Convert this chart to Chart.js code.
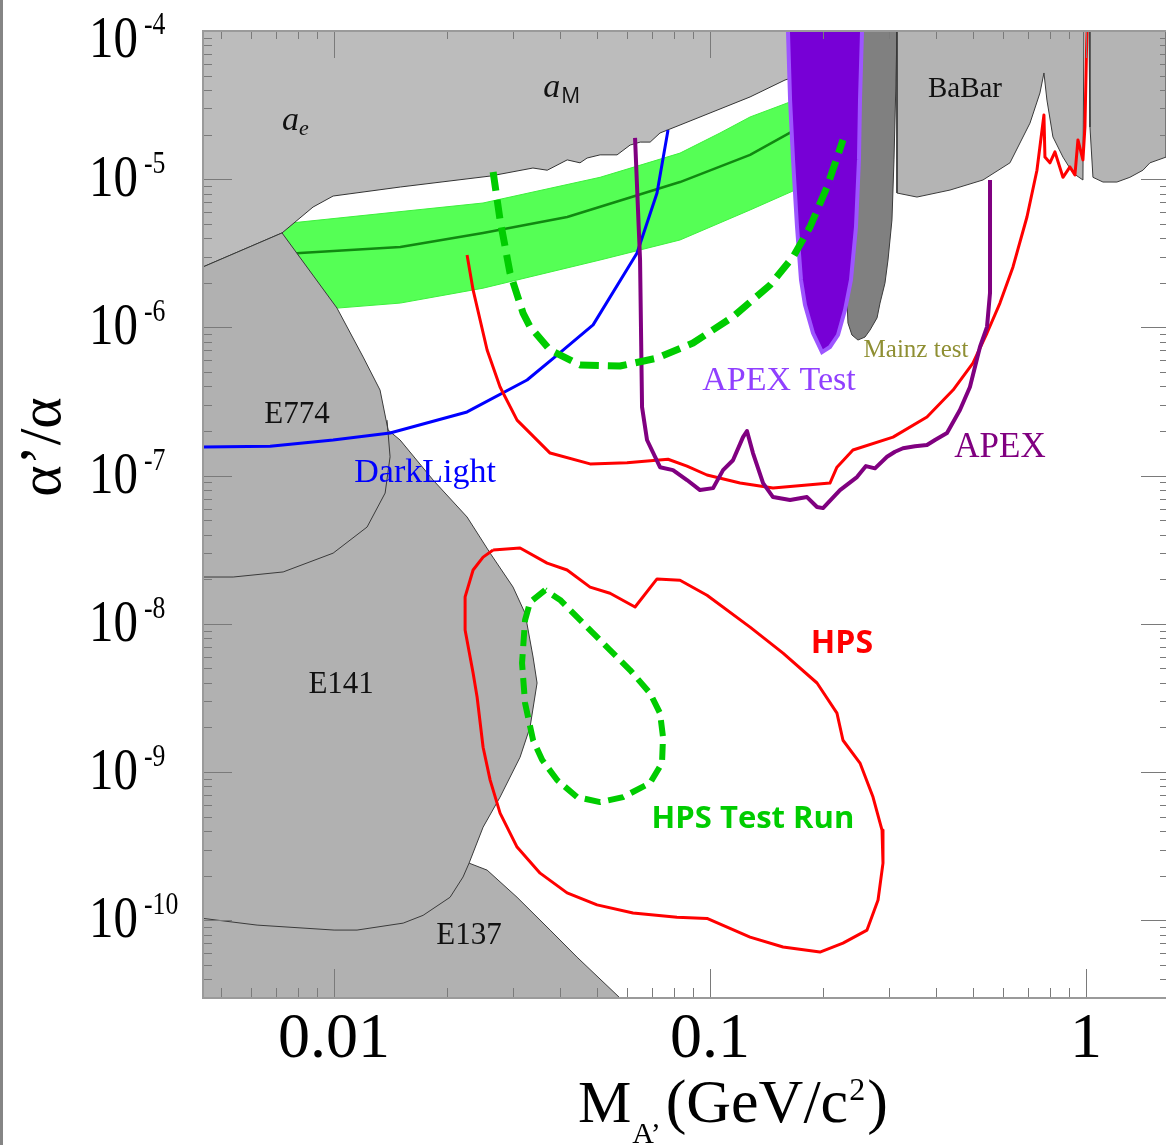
<!DOCTYPE html>
<html>
<head>
<meta charset="utf-8">
<script src="https://cdn.jsdelivr.net/npm/chart.js@4.4.1/dist/chart.umd.min.js"></script>
<style>
  html, body { margin: 0; padding: 0; background: #fff; }
  #wrap { position: relative; width: 1166px; height: 1145px; }
</style>
</head>
<body>
<div id="wrap"><canvas id="limits" width="1166" height="1145"></canvas></div>
<script>
// Axis ranges: A' mass (GeV) and alpha'/alpha
const massRange = [0.00448, 1.633];
const ratioRange = [2.99e-11, 1e-4];
const xTickValues = [0.01, 0.1, 1];
const xTickLabels = ["0.01", "0.1", "1"];
const yTickExponents = [-4, -5, -6, -7, -8, -9, -10];

// Excluded regions, [mass, alpha'/alpha]
const aeAmRegion = [
  [0.00448, 1e-4], [0.00448, 2.56e-6], [0.00727, 4.34e-6], [0.00879, 6.49e-6],
  [0.00994, 7.70e-6], [0.0150, 8.86e-6], [0.0260, 1.05e-5], [0.0338, 1.19e-5],
  [0.0369, 1.15e-5], [0.0417, 1.35e-5], [0.0451, 1.29e-5], [0.0471, 1.39e-5],
  [0.0510, 1.46e-5], [0.0566, 1.46e-5], [0.0613, 1.70e-5], [0.0652, 1.78e-5],
  [0.0693, 1.78e-5], [0.0736, 2.05e-5], [0.0832, 2.32e-5], [0.1278, 3.59e-5],
  [0.1583, 4.67e-5], [0.236, 6.37e-5], [0.236, 1e-4]
];
const beamDumpRegion = [
  [0.00448, 2.56e-6], [0.00727, 4.34e-6], [0.01018, 1.35e-6], [0.01195, 6.31e-7],
  [0.01325, 3.78e-7], [0.01392, 2.03e-7], [0.01498, 1.74e-7], [0.01834, 9.34e-8],
  [0.02258, 5.26e-8], [0.02601, 3.00e-8], [0.02993, 1.77e-8], [0.03221, 1.18e-8],
  [0.03383, 5.97e-9], [0.03467, 3.99e-9], [0.03321, 2.01e-9], [0.03124, 1.26e-9],
  [0.02764, 6.78e-10], [0.02491, 4.25e-10], [0.02286, 2.43e-10], [0.02553, 2.18e-10],
  [0.03067, 1.43e-10], [0.03755, 8.59e-11], [0.04429, 5.64e-11], [0.05762, 2.99e-11],
  [0.00448, 2.99e-11]
];
const e774Edge = [
  [0.01383, 2.37e-7], [0.01409, 1.34e-7], [0.01367, 7.63e-8], [0.01224, 4.50e-8],
  [0.00994, 3.00e-8], [0.00732, 2.24e-8], [0.00539, 2.07e-8], [0.00448, 2.07e-8]
];
const e141Edge = [
  [0.00448, 1.03e-10], [0.00624, 9.28e-11], [0.0100, 8.59e-11], [0.01151, 8.59e-11],
  [0.01527, 9.57e-11], [0.01725, 1.08e-10], [0.02035, 1.43e-10], [0.02203, 1.96e-10],
  [0.02286, 2.43e-10]
];
const mainzRegion = [
  [0.2356, 1e-4], [0.2328, 7.24e-6], [0.2313, 1.53e-6], [0.2328, 1.07e-6],
  [0.2385, 8.89e-7], [0.2475, 8.22e-7], [0.2584, 8.61e-7], [0.2665, 9.60e-7],
  [0.2782, 1.16e-6], [0.2833, 1.46e-6], [0.2920, 1.99e-6], [0.2975, 2.85e-6],
  [0.3048, 5.31e-6], [0.3086, 1.35e-5], [0.3124, 4.67e-5], [0.3143, 1e-4]
];
const apexTestRegion = [
  [0.1612, 1e-4], [0.1633, 3.42e-5], [0.1663, 1.35e-5], [0.1704, 4.76e-6],
  [0.1746, 2.09e-6], [0.1789, 1.42e-6], [0.1879, 9.17e-7], [0.1986, 6.82e-7],
  [0.2085, 7.38e-7], [0.2190, 8.89e-7], [0.2286, 1.31e-6], [0.2371, 2.09e-6],
  [0.2445, 4.76e-6], [0.2490, 1.35e-5], [0.2506, 3.42e-5], [0.2537, 1e-4]
];
const babarLow = [
  [0.3143, 1e-4], [0.3143, 8.07e-6], [0.3552, 7.58e-6], [0.4349, 8.45e-6],
  [0.5322, 9.88e-6], [0.6280, 1.29e-5], [0.7098, 2.39e-5], [0.7545, 3.82e-5],
  [0.7732, 5.21e-5], [0.7875, 3.42e-5], [0.8170, 1.93e-5], [0.8687, 1.41e-5],
  [0.9235, 1.10e-5], [0.9818, 9.88e-6], [0.9878, 1e-4]
];
const babarHigh = [
  [1.019, 1e-4], [1.025, 2.25e-5], [1.044, 1.03e-5], [1.110, 9.57e-6],
  [1.209, 9.57e-6], [1.309, 1.03e-5], [1.418, 1.15e-5], [1.480, 1.29e-5],
  [1.633, 1.41e-5], [1.633, 1e-4]
];

// Favoured (g-2)_mu band and its central line
const muonBand = [
  [0.00448, 4.54e-6], [0.00764, 5.06e-6], [0.0249, 6.91e-6], [0.0510, 1.03e-5],
  [0.0832, 1.50e-5], [0.1063, 2.05e-5], [0.1278, 2.63e-5], [0.1684, 3.42e-5],
  [0.1684, 8.45e-6], [0.1278, 6.20e-6], [0.0832, 3.89e-6], [0.0510, 2.85e-6],
  [0.0249, 1.84e-6], [0.0150, 1.46e-6], [0.01018, 1.35e-6], [0.00448, 1.18e-6]
];
const muonCentre = [
  [0.00448, 2.76e-6], [0.00812, 3.18e-6], [0.0150, 3.49e-6], [0.0249, 4.34e-6],
  [0.0417, 5.56e-6], [0.0832, 9.57e-6], [0.1278, 1.46e-5], [0.1684, 2.15e-5]
];

// Reach curves
const darkLight = [
  [0.00448, 1.56e-7], [0.00676, 1.58e-7], [0.00994, 1.74e-7], [0.01409, 1.94e-7],
  [0.02258, 2.69e-7], [0.03261, 4.42e-7], [0.03920, 6.51e-7], [0.04886, 1.04e-6],
  [0.06396, 3.18e-6], [0.07228, 8.07e-6], [0.07732, 2.15e-5]
];
const hpsPrompt = [
  [0.02258, 3.08e-6], [0.02343, 1.79e-6], [0.02553, 7.04e-7], [0.02764, 3.96e-7],
  [0.03067, 2.37e-7], [0.03755, 1.42e-7], [0.04797, 1.20e-7], [0.06015, 1.22e-7],
  [0.07732, 1.29e-7], [0.08685, 1.16e-7], [0.09818, 1.01e-7], [0.1202, 8.91e-8],
  [0.1471, 8.24e-8], [0.2085, 8.91e-8], [0.2176, 1.14e-7], [0.2400, 1.49e-7],
  [0.3068, 1.82e-7], [0.3777, 2.49e-7], [0.4431, 3.78e-7], [0.5005, 5.75e-7],
  [0.5456, 9.17e-7], [0.5906, 1.46e-6], [0.6397, 2.56e-6], [0.6968, 5.56e-6],
  [0.7408, 1.15e-5], [0.7732, 2.71e-5], [0.7780, 1.41e-5], [0.8021, 1.29e-5],
  [0.8271, 1.53e-5], [0.8687, 1.03e-5], [0.9068, 1.21e-5], [0.9349, 1.07e-5],
  [0.9522, 1.84e-5], [0.9818, 1.35e-5], [0.9939, 2.25e-5], [1.006, 1e-4]
];
const apexReach = [
  [0.06318, 1.90e-5], [0.06515, 2.85e-6], [0.06595, 2.90e-7], [0.06799, 1.74e-7],
  [0.07362, 1.14e-7], [0.07972, 1.09e-7], [0.08685, 9.34e-8], [0.09406, 7.99e-8],
  [0.1019, 8.24e-8], [0.1083, 1.09e-7], [0.1151, 1.27e-7], [0.1224, 1.82e-7],
  [0.1254, 2.00e-7], [0.1301, 1.42e-7], [0.1384, 8.91e-8], [0.1471, 7.17e-8],
  [0.1633, 6.84e-8], [0.1811, 7.17e-8], [0.1926, 6.14e-8], [0.1998, 6.04e-8],
  [0.2217, 7.99e-8], [0.2460, 9.78e-8], [0.2599, 1.16e-7], [0.2747, 1.12e-7],
  [0.2957, 1.34e-7], [0.3105, 1.45e-7], [0.3261, 1.53e-7], [0.3510, 1.58e-7],
  [0.3777, 1.61e-7], [0.3967, 1.74e-7], [0.4270, 1.94e-7], [0.4622, 2.77e-7],
  [0.4914, 3.96e-7], [0.5225, 7.38e-7], [0.5456, 1.01e-6], [0.5557, 1.71e-6],
  [0.5557, 9.88e-6]
];
const testRunPrompt = [
  [0.02649, 1.12e-5], [0.02764, 5.31e-6], [0.02938, 2.33e-6], [0.03182, 1.25e-6],
  [0.03321, 1.01e-6], [0.03755, 7.04e-7], [0.04511, 5.58e-7], [0.05762, 5.49e-7],
  [0.07228, 6.21e-7], [0.09011, 7.85e-7], [0.1151, 1.18e-6], [0.1444, 1.93e-6],
  [0.1663, 2.99e-6], [0.1845, 4.76e-6], [0.2047, 8.86e-6], [0.2258, 1.84e-5]
];
const hpsVertex = [
  [0.02649, 3.15e-8], [0.03124, 3.25e-8], [0.03687, 2.57e-8], [0.04167, 2.31e-8],
  [0.04797, 1.77e-8], [0.05420, 1.61e-8], [0.06318, 1.30e-8], [0.07228, 2.01e-8],
  [0.08321, 1.97e-8], [0.09818, 1.56e-8], [0.1278, 9.51e-9], [0.1564, 6.35e-9],
  [0.1926, 3.99e-9], [0.2176, 2.50e-9], [0.2258, 1.64e-9], [0.2506, 1.15e-9],
  [0.2714, 6.78e-10], [0.2868, 4.06e-10], [0.2885, 2.43e-10], [0.2799, 1.37e-10],
  [0.2616, 8.59e-11], [0.2258, 7.02e-11], [0.1961, 6.10e-11], [0.1564, 6.60e-11],
  [0.1278, 7.70e-11], [0.09818, 1.03e-10], [0.08168, 1.05e-10], [0.06240, 1.12e-10],
  [0.05007, 1.27e-10], [0.04167, 1.53e-10], [0.03532, 2.08e-10], [0.03067, 3.12e-10],
  [0.02764, 5.29e-10], [0.02601, 8.83e-10], [0.02491, 1.47e-9], [0.02401, 3.21e-9],
  [0.02343, 4.66e-9], [0.02231, 9.08e-9], [0.02231, 1.52e-8], [0.02343, 2.31e-8],
  [0.02491, 2.82e-8]
];
const testRunVertex = [
  [0.03642, 1.69e-8], [0.03321, 1.40e-8], [0.03221, 1.06e-8], [0.03162, 5.44e-9],
  [0.03221, 2.92e-9], [0.03383, 1.64e-9], [0.03575, 1.21e-9], [0.03920, 8.83e-10],
  [0.04429, 6.78e-10], [0.05099, 6.27e-10], [0.05869, 6.78e-10], [0.06925, 8.43e-10],
  [0.07453, 1.15e-9], [0.07499, 1.72e-9], [0.07362, 2.50e-9], [0.06925, 3.41e-9],
  [0.06126, 4.88e-9], [0.05420, 6.65e-9], [0.04709, 9.51e-9], [0.03993, 1.45e-8]
];

const SERIF = '"Liberation Serif", "Times New Roman", serif';
const SANS = '"Open Sans", "Liberation Sans", sans-serif';

// text labels placed in data coordinates (centre x, baseline y)
const plotLabels = [
  { text: "BaBar", at: [0.4767, 3.59e-5], font: "29px " + SERIF, color: "#111" },
  { text: "E774", at: [0.00797, 2.26e-7], font: "31px " + SERIF, color: "#111" },
  { text: "DarkLight", at: [0.01746, 9.05e-8], font: "34px " + SERIF, color: "#0000ff" },
  { text: "APEX Test", at: [0.1526, 3.78e-7], font: "34px " + SERIF, color: "#9040ff" },
  { text: "Mainz test", at: [0.3531, 6.31e-7], font: "25px " + SERIF, color: "#8f8f33" },
  { text: "APEX", at: [0.5906, 1.34e-7], font: "35px " + SERIF, color: "#800080" },
  { text: "E141", at: [0.01044, 3.41e-9], font: "31px " + SERIF, color: "#111" },
  { text: "HPS", at: [0.2244, 6.35e-9], font: "bold 32px " + SANS, color: "#ff0000" },
  { text: "HPS Test Run", at: [0.1301, 4.19e-10], font: "bold 31px " + SANS, color: "#00cc00" },
  { text: "E137", at: [0.02286, 6.91e-11], font: "31px " + SERIF, color: "#111" }
];

const pts = a => a.map(p => ({ x: p[0], y: p[1] }));
const closeLoop = a => a.concat([a[0]]);

function region(data, fillColor, edgeColor, edgeWidth) {
  return {
    data: pts(data), fill: "shape", backgroundColor: fillColor,
    borderColor: edgeColor, borderWidth: edgeWidth, pointRadius: 0
  };
}
function curve(data, color, width, dash) {
  return {
    data: pts(data), fill: false, borderColor: color, borderWidth: width,
    borderDash: dash || [], borderJoinStyle: "round", pointRadius: 0
  };
}

// listed bottom to top
const layers = [
  region(muonBand, "#55ff55", "#3df03d", 1),
  curve(muonCentre, "#118811", 2.5),
  region(aeAmRegion, "#bcbcbc", "#333", 1),
  region(beamDumpRegion, "#b1b1b1", "#3a3a3a", 1),
  curve(e774Edge, "#3a3a3a", 1),
  curve(e141Edge, "#3a3a3a", 1),
  region(mainzRegion, "#808080", "#3a3a3a", 1),
  region(apexTestRegion, "#7700d6", "#9d55ff", 4),
  region(babarLow, "#b4b4b4", "#3a3a3a", 1),
  region(babarHigh, "#b4b4b4", "#3a3a3a", 1),
  curve(darkLight, "#0000ff", 3),
  curve(hpsPrompt, "#ff0000", 3),
  curve(apexReach, "#800080", 4),
  curve(testRunPrompt, "#00cc00", 7, [19, 9]),
  curve(closeLoop(hpsVertex), "#ff0000", 3),
  curve(closeLoop(testRunVertex), "#00cc00", 6, [16, 8])
];
layers.forEach((d, i) => { d.order = layers.length - i; });

function condensed(ctx, str, x, y, size, sx) {
  ctx.save();
  ctx.translate(x, y);
  ctx.scale(sx, 1);
  ctx.font = size + "px " + SERIF;
  ctx.textAlign = "left";
  ctx.textBaseline = "alphabetic";
  ctx.fillText(str, 0, 0);
  const w = ctx.measureText(str).width * sx;
  ctx.restore();
  return w;
}

const framePlugin = {
  id: "frame",
  afterDatasetsDraw(chart) {
    const ctx = chart.ctx, a = chart.chartArea;
    const xs = chart.scales.x, ys = chart.scales.y;
    ctx.save();
    ctx.strokeStyle = "#7a7a7a";
    ctx.lineWidth = 1;
    const seg = (x0, y0, x1, y1) => { ctx.beginPath(); ctx.moveTo(x0, y0); ctx.lineTo(x1, y1); ctx.stroke(); };

    for (let e = -3; e <= 0; e++) {
      for (let m = 1; m <= 9; m++) {
        const v = m * Math.pow(10, e);
        if (v < massRange[0] || v > massRange[1]) continue;
        const px = Math.round(xs.getPixelForValue(v)) + 0.5;
        seg(px, a.bottom, px, a.bottom - (m === 1 ? 29 : 10));
        seg(px, a.top, px, a.top + (m === 1 ? 27 : 8));
      }
    }
    for (let e = -11; e <= -4; e++) {
      for (let m = 1; m <= 9; m++) {
        const v = m * Math.pow(10, e);
        if (v < ratioRange[0] || v > ratioRange[1] * 1.0001) continue;
        const py = Math.round(ys.getPixelForValue(v)) + 0.5;
        seg(a.left, py, a.left + (m === 1 ? 29 : 9), py);
        seg(a.right + 4, py, a.right + 4 - (m === 1 ? 29 : 10), py);
      }
    }

    ctx.strokeStyle = "#9a9a9a";
    ctx.lineWidth = 2;
    seg(a.left, a.top, a.right, a.top);
    seg(a.left, a.top - 1, a.left, a.bottom + 1);
    seg(a.left, a.bottom, a.right, a.bottom);

    // screenshot edge on the far left
    ctx.fillStyle = "#858585";
    ctx.fillRect(0, 0, 3, chart.height);

    // x tick labels
    ctx.fillStyle = "#000";
    ctx.font = "64px " + SERIF;
    ctx.textAlign = "center";
    ctx.textBaseline = "alphabetic";
    xTickValues.forEach((v, i) => ctx.fillText(xTickLabels[i], xs.getPixelForValue(v), 1057));

    // y tick labels 10^n
    yTickExponents.forEach(n => {
      const py = ys.getPixelForValue(Math.pow(10, n));
      const base = Math.max(py + 17, 57);
      const w = condensed(ctx, "10", 89, base, 59, 0.83);
      condensed(ctx, "-" + (-n), 89 + w + 6, base - 23, 31, 0.83);
    });

    // x axis title
    let cx = 578;
    ctx.textAlign = "left";
    ctx.font = "60px " + SERIF;
    ctx.fillText("M", cx, 1122);
    cx += ctx.measureText("M").width + 1;
    ctx.font = "30px " + SERIF;
    ctx.fillText("A\u2019", cx, 1143);
    cx += ctx.measureText("A\u2019").width + 5;
    ctx.font = "62px " + SERIF;
    ctx.fillText("(GeV/c", cx, 1122);
    cx += ctx.measureText("(GeV/c").width + 1;
    ctx.font = "32px " + SERIF;
    ctx.fillText("2", cx, 1100);
    cx += ctx.measureText("2").width + 2;
    ctx.font = "62px " + SERIF;
    ctx.fillText(")", cx, 1122);

    // y axis title
    ctx.save();
    ctx.translate(60, 447);
    ctx.rotate(-Math.PI / 2);
    ctx.textAlign = "center";
    ctx.font = "60px " + SERIF;
    ctx.fillText("\u03b1\u2019/\u03b1", 0, 0);
    ctx.restore();

    // labels inside the plot
    plotLabels.forEach(l => {
      ctx.font = l.font;
      ctx.fillStyle = l.color;
      ctx.textAlign = "center";
      ctx.fillText(l.text, xs.getPixelForValue(l.at[0]), ys.getPixelForValue(l.at[1]));
    });

    // a_e and a_M with subscripts
    ctx.fillStyle = "#111";
    ctx.textAlign = "left";
    let px = xs.getPixelForValue(0.00727), py = ys.getPixelForValue(2.15e-5);
    ctx.font = "italic 34px " + SERIF;
    ctx.fillText("a", px, py);
    px += ctx.measureText("a").width;
    ctx.font = "italic 22px " + SERIF;
    ctx.fillText("e", px, py + 5);

    px = xs.getPixelForValue(0.0360);
    py = ys.getPixelForValue(3.59e-5);
    ctx.font = "italic 34px " + SERIF;
    ctx.fillText("a", px, py);
    px += ctx.measureText("a").width + 1;
    ctx.font = "21px " + SANS;
    ctx.fillText("M", px, py + 6);

    ctx.restore();
  }
};

new Chart(document.getElementById("limits"), {
  type: "line",
  data: { datasets: layers },
  options: {
    responsive: false,
    devicePixelRatio: 1,
    animation: false,
    events: [],
    layout: { padding: { left: 203, top: 31, right: 0, bottom: 147 } },
    scales: {
      x: { type: "logarithmic", min: massRange[0], max: massRange[1], display: false },
      y: { type: "logarithmic", min: ratioRange[0], max: ratioRange[1], display: false }
    },
    plugins: {
      legend: { display: false },
      tooltip: { enabled: false }
    }
  },
  plugins: [framePlugin]
});
</script>
</body>
</html>
